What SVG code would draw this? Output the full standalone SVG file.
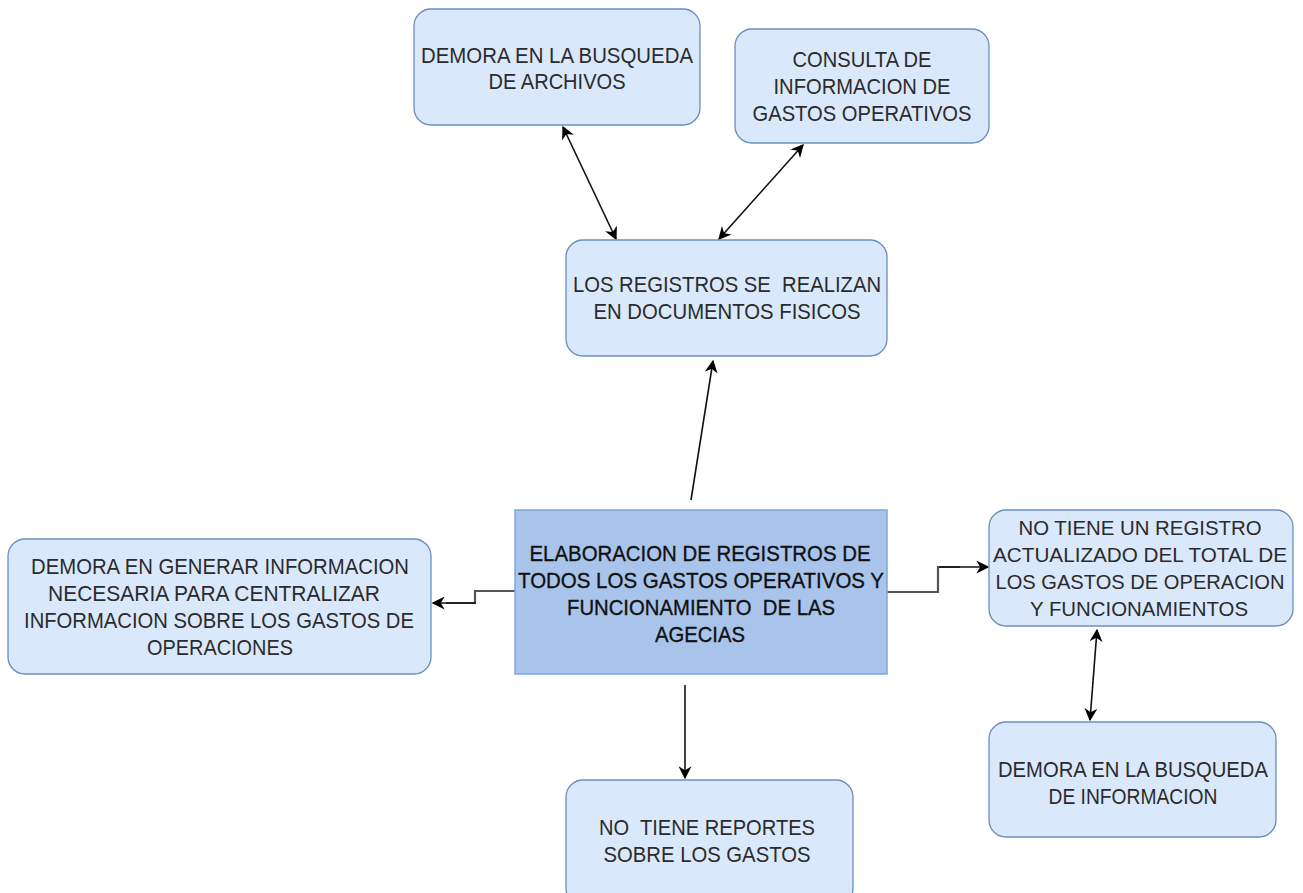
<svg xmlns="http://www.w3.org/2000/svg" width="1303" height="893" viewBox="0 0 1303 893">
  <style>
    .box { fill: #dae8fc; stroke: #6c8ebf; stroke-width: 1.3; }
    .core { fill: #a9c4eb; stroke: #7ea6e0; stroke-width: 1.5; }
    text { white-space: pre; }
    .t { font-family: "Liberation Sans", Arial, sans-serif; font-size: 22px; fill: #2b2b2b; text-anchor: middle; }
    .ts { font-size: 20.5px; }
    .tc { font-family: "Liberation Sans", Arial, sans-serif; font-size: 22px; fill: #111; text-anchor: middle; stroke: #111; stroke-width: 0.35; }
    .edge { fill: none; stroke: #111; stroke-width: 1.6; }
    .edge2 { fill: none; stroke: #555; stroke-width: 2.2; }
  </style>
  <defs>
    <marker id="arrowL" viewBox="0 0 10 10" refX="9" refY="5" markerWidth="13" markerHeight="13" orient="auto-start-reverse" markerUnits="userSpaceOnUse">
      <path d="M0,0 L10,5 L0,10 L3,5 Z" fill="#000"/>
    </marker>
  </defs>

  <g id="connectors">
    <!-- core to physical records -->
    <line class="edge" x1="691" y1="500" x2="713" y2="361" marker-end="url(#arrowL)"/>
    <!-- records <-> file search -->
    <line class="edge" x1="563" y1="127" x2="616" y2="239" marker-start="url(#arrowL)" marker-end="url(#arrowL)"/>
    <!-- records <-> expense lookup -->
    <line class="edge" x1="803" y1="145" x2="719" y2="239" marker-start="url(#arrowL)" marker-end="url(#arrowL)"/>
    <!-- core to centralising delay -->
    <path class="edge2" d="M515,591 H475 V603 H446"/>
    <path class="edge" d="M476,603 H433" marker-end="url(#arrowL)"/>
    <!-- core to missing total register -->
    <path class="edge2" d="M887,592 H938 V567 H960"/>
    <path class="edge" d="M939,567 H988" marker-end="url(#arrowL)"/>
    <!-- register <-> information search -->
    <line class="edge" x1="1097" y1="630" x2="1090" y2="720" marker-start="url(#arrowL)" marker-end="url(#arrowL)"/>
    <!-- core to reports -->
    <line class="edge" x1="685" y1="685" x2="685" y2="778" marker-end="url(#arrowL)"/>
  </g>

  <g id="n-demora-archivos">
    <rect class="box" x="414" y="9" width="286" height="116" rx="17"/>
    <text class="t" x="557" y="63" textLength="272" lengthAdjust="spacingAndGlyphs">DEMORA EN LA BUSQUEDA</text>
    <text class="t" x="557" y="89" textLength="137" lengthAdjust="spacingAndGlyphs">DE ARCHIVOS</text>
  </g>

  <g id="n-consulta">
    <rect class="box" x="735" y="29" width="254" height="114" rx="17"/>
    <text class="t" x="862" y="67" textLength="139" lengthAdjust="spacingAndGlyphs">CONSULTA DE</text>
    <text class="t" x="862" y="94" textLength="177" lengthAdjust="spacingAndGlyphs">INFORMACION DE</text>
    <text class="t" x="862" y="121" textLength="219" lengthAdjust="spacingAndGlyphs">GASTOS OPERATIVOS</text>
  </g>

  <g id="n-registros">
    <rect class="box" x="566" y="240" width="321" height="116" rx="17"/>
    <text class="t" x="727" y="292" textLength="308" lengthAdjust="spacingAndGlyphs">LOS REGISTROS SE  REALIZAN</text>
    <text class="t" x="727" y="319" textLength="267" lengthAdjust="spacingAndGlyphs">EN DOCUMENTOS FISICOS</text>
  </g>

  <g id="n-elaboracion">
    <rect class="core" x="515" y="510" width="372" height="164"/>
    <text class="tc" x="700" y="561" textLength="341" lengthAdjust="spacingAndGlyphs">ELABORACION DE REGISTROS DE</text>
    <text class="tc" x="701" y="588" textLength="366" lengthAdjust="spacingAndGlyphs">TODOS LOS GASTOS OPERATIVOS Y</text>
    <text class="tc" x="701" y="615" textLength="268" lengthAdjust="spacingAndGlyphs">FUNCIONAMIENTO  DE LAS</text>
    <text class="tc" x="700" y="642" textLength="90" lengthAdjust="spacingAndGlyphs">AGECIAS</text>
  </g>

  <g id="n-centralizar">
    <rect class="box" x="8" y="539" width="423" height="135" rx="17"/>
    <text class="t" x="220" y="574" textLength="378" lengthAdjust="spacingAndGlyphs">DEMORA EN GENERAR INFORMACION</text>
    <text class="t" x="214" y="601" textLength="332" lengthAdjust="spacingAndGlyphs">NECESARIA PARA CENTRALIZAR</text>
    <text class="t" x="219" y="628" textLength="390" lengthAdjust="spacingAndGlyphs">INFORMACION SOBRE LOS GASTOS DE</text>
    <text class="t" x="220" y="655" textLength="146" lengthAdjust="spacingAndGlyphs">OPERACIONES</text>
  </g>

  <g id="n-registro-total">
    <rect class="box" x="989" y="510" width="304" height="116" rx="17"/>
    <text class="t ts" x="1140" y="535" textLength="243" lengthAdjust="spacingAndGlyphs">NO TIENE UN REGISTRO</text>
    <text class="t ts" x="1140" y="562" textLength="294" lengthAdjust="spacingAndGlyphs">ACTUALIZADO DEL TOTAL DE</text>
    <text class="t ts" x="1140" y="589" textLength="289" lengthAdjust="spacingAndGlyphs">LOS GASTOS DE OPERACION</text>
    <text class="t ts" x="1139" y="616" textLength="218" lengthAdjust="spacingAndGlyphs">Y FUNCIONAMIENTOS</text>
  </g>

  <g id="n-demora-informacion">
    <rect class="box" x="989" y="722" width="287" height="115" rx="17"/>
    <text class="t" x="1133" y="777" textLength="270" lengthAdjust="spacingAndGlyphs">DEMORA EN LA BUSQUEDA</text>
    <text class="t" x="1133" y="804" textLength="169" lengthAdjust="spacingAndGlyphs">DE INFORMACION</text>
  </g>

  <g id="n-reportes">
    <rect class="box" x="566" y="780" width="287" height="125" rx="17"/>
    <text class="t" x="707" y="835" textLength="216" lengthAdjust="spacingAndGlyphs">NO  TIENE REPORTES</text>
    <text class="t" x="707" y="862" textLength="207" lengthAdjust="spacingAndGlyphs">SOBRE LOS GASTOS</text>
  </g>
</svg>
